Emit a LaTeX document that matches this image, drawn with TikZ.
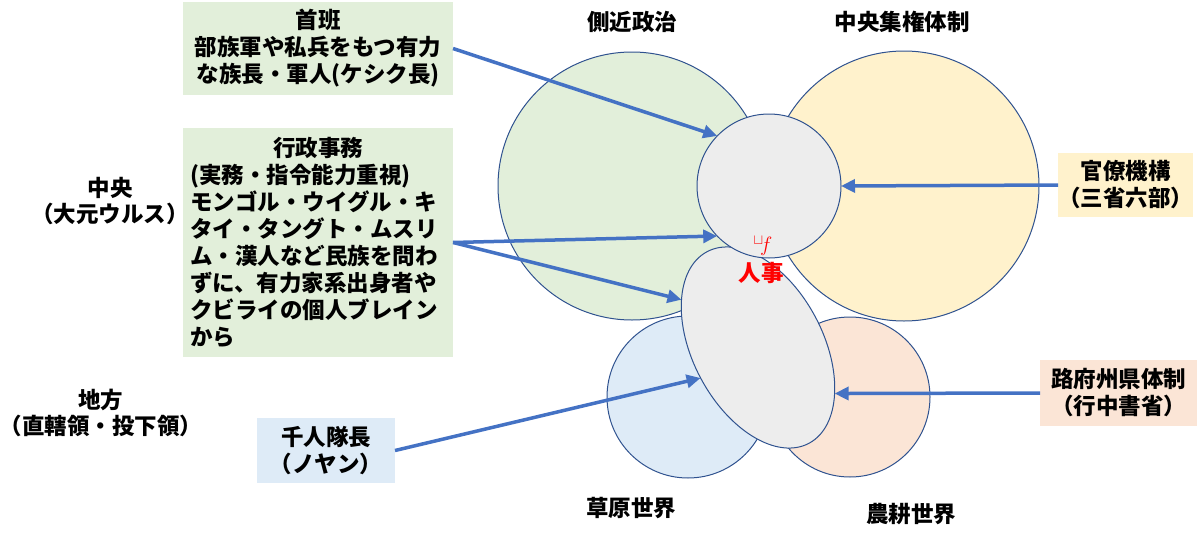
\documentclass[tikz,border=0pt]{standalone}
\usepackage{fontspec}
\setmainfont{Noto Sans CJK JP}
\usetikzlibrary{arrows.meta,shapes.geometric}

\definecolor{ringline}{HTML}{2F528F}
\definecolor{arrowblue}{HTML}{4472C4}
\definecolor{fillgreen}{HTML}{E2EFDA}
\definecolor{fillyellow}{HTML}{FFF2CC}
\definecolor{fillgray}{HTML}{EDEDED}
\definecolor{fillblue}{HTML}{DEEBF7}
\definecolor{fillpink}{HTML}{FBE5D6}

\tikzset{
  ring/.style={circle, draw=ringline, line width=1pt, inner sep=0pt, outer sep=0pt},
  notebox/.style={inner sep=0pt, outer sep=0pt},
  link/.style={draw=arrowblue, line width=3.5pt, -{Triangle[length=14pt,width=13pt]}},
  sidelabel/.style={align=center, font=\fontsize{22.5}{26}\selectfont\bfseries}
}

\begin{document}
\begin{tikzpicture}[x=1pt, y=-1pt, font=\fontsize{22.5}{27}\selectfont\bfseries]
\useasboundingbox (0,0) rectangle (1200,541);

% upper ring and lower ring
\node[ring, fill=fillgreen, minimum size=268pt] (court) at (632,186) {};
\node[ring, fill=fillyellow, minimum size=270pt] (central) at (904,186) {};
\node[ring, fill=fillblue, minimum size=162pt] (steppe) at (688,397) {};
\node[ring, fill=fillpink, minimum size=160pt] (farm) at (850,397) {};
\node[ellipse, draw=ringline, fill=fillgray, line width=1pt, inner sep=0pt, outer sep=0pt,
  minimum width=130pt, minimum height=217pt, rotate=28] (council) at (758,347.5) {};
\node[ring, fill=fillgray, minimum size=144pt] (inner) at (769,186) {};

% titles
\node (courtttl) at (632,22) {側近政治};
\node (centralttl) at (902,22) {中央集権体制};
\node (steppettl) at (631,508) {草原世界};
\node (farmttl) at (911,514) {農耕世界};
\node[sidelabel] (centerlbl) at (110,201) {中央\\（大元ウルス）};
\node[sidelabel] (locallbl) at (101,413) {地方\\（直轄領・投下領）};

% boxes
\node[notebox, fill=fillgreen, minimum width=270pt, minimum height=93pt,
  text width=262pt, align=center] (chief) at (318,48.5)
  {首班\\部族軍や私兵をもつ有力\\な族長・軍人(ケシク長)};
\node[notebox, fill=fillgreen, minimum width=270pt, minimum height=229pt,
  text width=256pt, align=left] (admin) at (318,242.5)
  {\makebox[\linewidth][c]{行政事務}\\(実務・指令能力重視)\\モンゴル・ウイグル・キ\\タイ・タングト・ムスリ\\ム・漢人など民族を問わ\\ずに、有力家系出身者や\\クビライの個人ブレイン\\から};
\node[notebox, fill=fillyellow, minimum width=135pt, minimum height=64pt,
  align=center] (office) at (1125.5,185) {官僚機構\\（三省六部）};
\node[notebox, fill=fillpink, minimum width=157pt, minimum height=66pt,
  align=center] (province) at (1118.5,393) {路府州県体制\\（行中書省）};
\node[notebox, fill=fillblue, minimum width=138pt, minimum height=65pt,
  align=center] (noyan) at (326,450.5) {千人隊長\\（ノヤン）};

% arrows
\draw[link] (chief.east) -- (inner.136);
\draw[link] (admin.east) -- (inner.224);
\draw[link] (admin.east) -- (council.120);
\draw[link] (office.west) -- (inner.east);
\draw[link] (province.west) -- (council.-59);
\draw[link] (noyan.east) -- (council.180);

% red mark
\node[text=red, inner sep=0pt] (markf) at (763,246) {${}^{\sqcup}\!f$};
\node[text=red, inner sep=0pt] (personnel) at (761,273) {人事};
\end{tikzpicture}
\end{document}
